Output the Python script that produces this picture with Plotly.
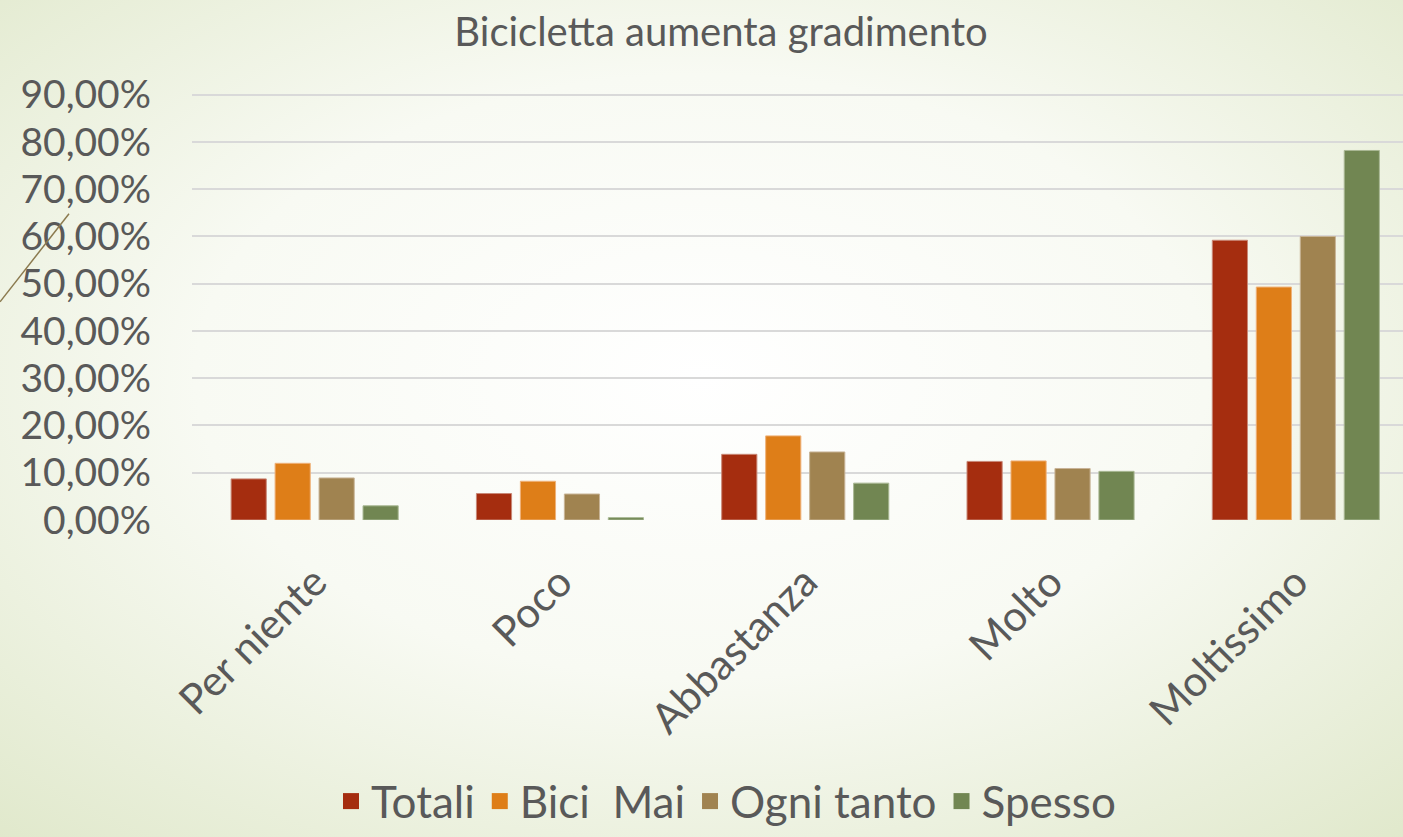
from urllib.parse import quote

import plotly.graph_objects as go

categories = ["Per niente", "Poco", "Abbastanza", "Molto", "Moltissimo"]
series_names = ["Totali", "Bici  Mai", "Ogni tanto", "Spesso"]
totali = [0.087, 0.056, 0.139, 0.124, 0.592]
bici_mai = [0.120, 0.082, 0.178, 0.125, 0.493]
ogni_tanto = [0.089, 0.055, 0.144, 0.109, 0.600]
spesso = [0.030, 0.005, 0.078, 0.103, 0.782]
y_ticks = [0, 0.1, 0.2, 0.3, 0.4, 0.5, 0.6, 0.7, 0.8, 0.9]

colors = ["#A52D0F", "#DE7E18", "#A08350", "#718652"]
edges = ["#C98877", "#EFB27A", "#C8B497", "#A9B894"]

W, H = 1403, 837
PL, PB = 192, 520          # plot left / zero line in pixels
PX_PER_UNIT = 425 / 0.9    # 0% at y=520, 90% at y=95
Y_TOP = 0.91
PT = PB - Y_TOP * PX_PER_UNIT

FONT = "Lato, 'Open Sans', sans-serif"
GREY = "#595959"

fig = go.Figure()
for name, vals, col, edge in zip(series_names, [totali, bici_mai, ogni_tanto, spesso], colors, edges):
    fig.add_trace(go.Bar(
        x=categories, y=vals, name=name, showlegend=False,
        marker=dict(color=col, line=dict(color=edge, width=1)),
    ))
# legend entries with bigger square swatches
for name, col in zip(series_names, colors):
    fig.add_trace(go.Scatter(
        x=[None], y=[None], name=name, mode="markers",
        marker=dict(symbol="square", size=16, color=col),
    ))

# soft radial background like the slide
svg = (
    f"<svg xmlns='http://www.w3.org/2000/svg' width='{W}' height='{H}'>"
    "<defs><radialGradient id='g' cx='50%' cy='45%' r='80%'>"
    "<stop offset='0' stop-color='#ffffff'/>"
    "<stop offset='0.45' stop-color='#f8faf3'/>"
    "<stop offset='1' stop-color='#dde6c6'/>"
    "</radialGradient></defs>"
    f"<rect width='{W}' height='{H}' fill='url(#g)'/></svg>"
)
bg_src = "data:image/svg+xml;charset=utf-8," + quote(svg)

pw = W - PL
ph = PB - PT


def px_x(p):
    return (p - PL) / pw


def px_y(p):
    return (PB - p) / ph


fig.update_layout(
    width=W, height=H,
    margin=dict(l=PL, r=0, t=PT, b=H - PB, pad=0),
    paper_bgcolor="#eef2e2",
    plot_bgcolor="rgba(0,0,0,0)",
    separators=",.",
    font=dict(family=FONT, color=GREY),
    title=dict(
        text="Bicicletta aumenta gradimento",
        font=dict(size=40, color=GREY, family=FONT),
        x=721 / W, xref="container", xanchor="center",
        y=1 - 32 / H, yref="container", yanchor="middle",
    ),
    barmode="group",
    bargap=0.283,
    bargroupgap=0.2,
    xaxis=dict(
        range=[-0.5, -0.5 + pw / 245.3],
        tickangle=-45,
        tickfont=dict(size=42, color=GREY),
        showgrid=False, zeroline=False, showline=False,
        ticks="",
        ticklabelstandoff=28,
    ),
    yaxis=dict(
        range=[0, Y_TOP],
        tickvals=y_ticks,
        tickformat=".2%",
        tickfont=dict(size=39, color=GREY),
        gridcolor="#D9D9D9", gridwidth=2,
        zeroline=False, showline=False,
        ticklabelstandoff=40,
    ),
    legend=dict(
        orientation="h",
        x=726 / W, xref="container", xanchor="center",
        y=-0.027, yref="container", yanchor="bottom",
        font=dict(size=44, color=GREY),
        bgcolor="rgba(0,0,0,0)",
        itemsizing="trace",
    ),
    images=[dict(
        source=bg_src, xref="paper", yref="paper",
        x=px_x(0), y=px_y(0), sizex=W / pw, sizey=H / ph,
        xanchor="left", yanchor="top", sizing="stretch", layer="below",
    )],
    shapes=[dict(
        type="line", xref="paper", yref="paper",
        x0=px_x(0), y0=px_y(302), x1=px_x(69), y1=px_y(214),
        line=dict(color="#8B7A4F", width=1.5),
    )],
)

fig.write_html(
    "out.html",
    config={"displayModeBar": False},
    post_script="document.body.style.margin='0';",
)
